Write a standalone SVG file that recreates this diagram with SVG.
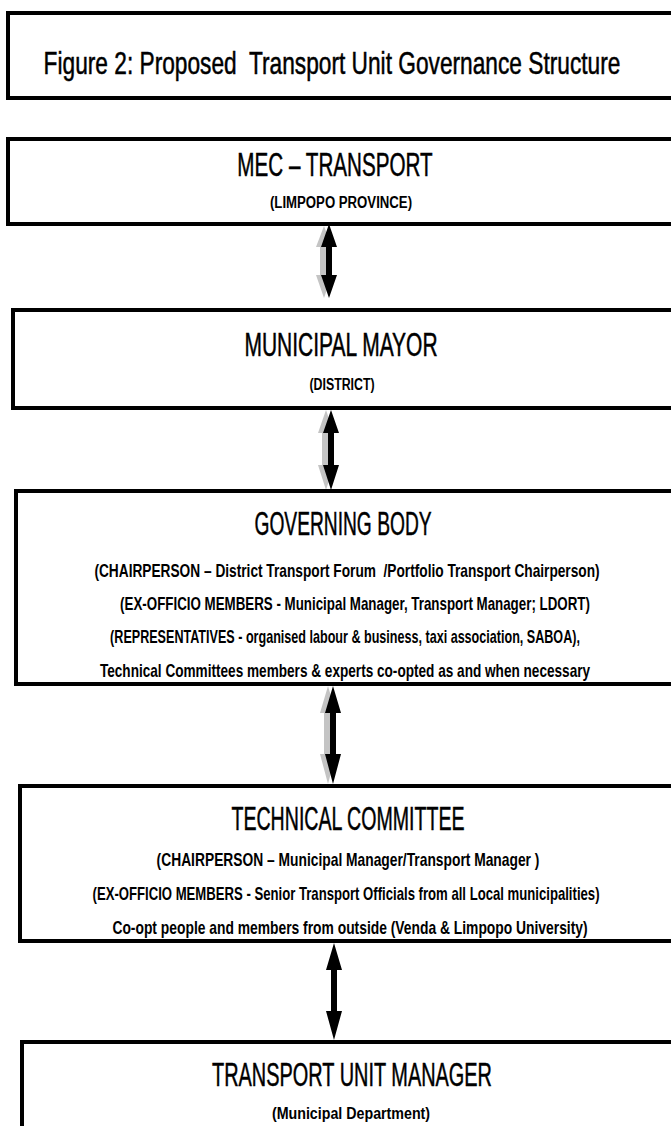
<svg xmlns="http://www.w3.org/2000/svg" width="671" height="1126" viewBox="0 0 671 1126">
<defs>
<style>
.box{fill:#fff;stroke:#000;stroke-width:4}
.head{font-family:"Liberation Sans",Arial,sans-serif;font-size:33px;fill:#000;stroke:#000;stroke-width:0.5;text-anchor:middle}
.ttl{font-size:31px}
.sub{font-family:"Liberation Sans",Arial,sans-serif;font-size:18px;font-weight:bold;fill:#000;text-anchor:middle}
.sm{font-size:17px}
.arr{fill:#000}
.shd{fill:#c4c4c4}
</style>
</defs>
<rect width="671" height="1126" fill="#fff"/>
<g id="title">
<rect class="box" x="8" y="13" width="680" height="85"/>
<text class="head ttl" transform="translate(332,74) scale(0.7,1)" x="0" y="0" textLength="824" lengthAdjust="spacingAndGlyphs" xml:space="preserve">Figure 2: Proposed  Transport Unit Governance Structure</text>
</g>
<g id="connectors">
<polygon class="shd" points="324,226 316,247 320,247 320,275 316,275 324,298 332,275 328,275 328,247 332,247"/>
<polygon class="arr" points="329,224 321,247 326,247 326,275 321,275 329,298 337,275 332,275 332,247 337,247"/>
<polygon class="shd" points="326,410 318,433 322,433 322,465 318,465 326,490 334,465 330,465 330,433 334,433"/>
<polygon class="arr" points="331,410 323,433 328,433 328,465 323,465 331,490 339,465 334,465 334,433 339,433"/>
<polygon class="shd" points="328,686 320,713 324,713 324,754 320,754 328,784 336,754 332,754 332,713 336,713"/>
<polygon class="arr" points="333,686 325,713 330,713 330,754 325,754 333,784 341,754 336,754 336,713 341,713"/>
<polygon class="arr" points="334,943 326,970 331,970 331,1011 326,1011 334,1040 342,1011 337,1011 337,970 342,970"/>
</g>
<g id="mec">
<rect class="box" x="8" y="139" width="680" height="85"/>
<text class="head" transform="translate(335,176) scale(0.7,1)" x="0" y="0" textLength="279" lengthAdjust="spacingAndGlyphs">MEC – TRANSPORT</text>
<text class="sub sm" transform="translate(341,208) scale(0.7,1)" x="0" y="0" textLength="203" lengthAdjust="spacingAndGlyphs">(LIMPOPO PROVINCE)</text>
</g>
<g id="mayor">
<rect class="box" x="13" y="310" width="680" height="98"/>
<text class="head" transform="translate(341,356) scale(0.7,1)" x="0" y="0" textLength="276" lengthAdjust="spacingAndGlyphs">MUNICIPAL MAYOR</text>
<text class="sub sm" transform="translate(342,390) scale(0.7,1)" x="0" y="0" textLength="93" lengthAdjust="spacingAndGlyphs">(DISTRICT)</text>
</g>
<g id="governing">
<rect class="box" x="16" y="491" width="680" height="193"/>
<text class="head" transform="translate(343,535) scale(0.7,1)" x="0" y="0" textLength="253" lengthAdjust="spacingAndGlyphs">GOVERNING BODY</text>
<text class="sub" transform="translate(347,577) scale(0.6,1)" x="0" y="0" textLength="842" lengthAdjust="spacingAndGlyphs" xml:space="preserve">(CHAIRPERSON – District Transport Forum  /Portfolio Transport Chairperson)</text>
<text class="sub" transform="translate(355,610) scale(0.6,1)" x="0" y="0" textLength="783" lengthAdjust="spacingAndGlyphs">(EX-OFFICIO MEMBERS - Municipal Manager, Transport Manager; LDORT)</text>
<text class="sub" transform="translate(345,643) scale(0.6,1)" x="0" y="0" textLength="783" lengthAdjust="spacingAndGlyphs">(REPRESENTATIVES - organised labour &amp; business, taxi association, SABOA),</text>
<text class="sub" transform="translate(345,677) scale(0.6,1)" x="0" y="0" textLength="817" lengthAdjust="spacingAndGlyphs">Technical Committees members &amp; experts co-opted as and when necessary</text>
</g>
<g id="technical">
<rect class="box" x="20" y="786" width="680" height="155"/>
<text class="head" transform="translate(348,830) scale(0.7,1)" x="0" y="0" textLength="333" lengthAdjust="spacingAndGlyphs">TECHNICAL COMMITTEE</text>
<text class="sub" transform="translate(348,866) scale(0.6,1)" x="0" y="0" textLength="638" lengthAdjust="spacingAndGlyphs">(CHAIRPERSON – Municipal Manager/Transport Manager )</text>
<text class="sub" transform="translate(346,900) scale(0.6,1)" x="0" y="0" textLength="845" lengthAdjust="spacingAndGlyphs">(EX-OFFICIO MEMBERS - Senior Transport Officials from all Local municipalities)</text>
<text class="sub" transform="translate(350,934) scale(0.6,1)" x="0" y="0" textLength="792" lengthAdjust="spacingAndGlyphs">Co-opt people and members from outside (Venda &amp; Limpopo University)</text>
</g>
<g id="manager">
<rect class="box" x="22" y="1042" width="680" height="120"/>
<text class="head" transform="translate(352,1086) scale(0.7,1)" x="0" y="0" textLength="400" lengthAdjust="spacingAndGlyphs">TRANSPORT UNIT MANAGER</text>
<text class="sub sm" transform="translate(351,1119) scale(0.7,1)" x="0" y="0" textLength="226" lengthAdjust="spacingAndGlyphs">(Municipal Department)</text>
</g>
</svg>
